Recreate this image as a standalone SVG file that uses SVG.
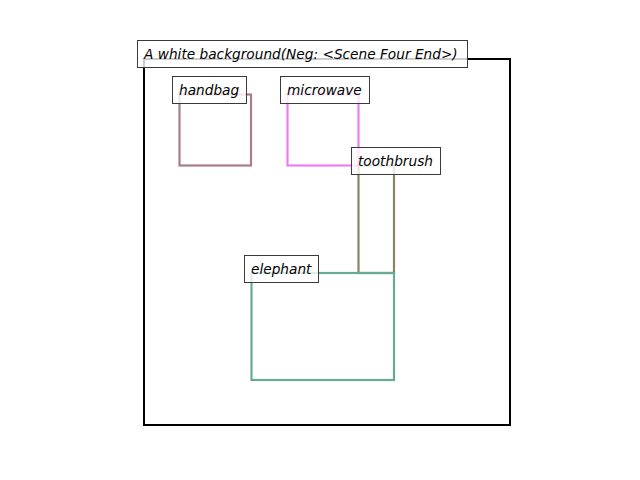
<svg xmlns="http://www.w3.org/2000/svg" width="640" height="480" viewBox="0 0 640 480">
<style>
.box{fill:none;stroke-width:2.2;}
.lbl rect{fill:#ffffff;fill-opacity:0.8;stroke:#3a3a3a;stroke-width:1;}
.lbl text{font-family:"DejaVu Sans",sans-serif;font-style:oblique;font-size:13.7px;fill:#000000;}
</style>
<rect width="640" height="480" fill="#ffffff"/>
<g id="frame"><rect x="144" y="59" width="366" height="366" fill="none" stroke="#000000" stroke-width="2"/></g>
<g id="handbag"><rect class="box" x="179.5" y="94.5" width="71.5" height="71" stroke="#a97c8e"/></g>
<g id="microwave"><rect class="box" x="287.5" y="94.5" width="71" height="71" stroke="#ee7df0"/></g>
<g id="toothbrush"><rect class="box" x="358.5" y="165.5" width="35.5" height="107.5" stroke="#8c8466"/></g>
<g id="elephant"><rect class="box" x="251.5" y="273" width="142.5" height="107" stroke="#66ab98"/></g>
<g id="title" class="lbl"><rect x="137.5" y="40.5" width="330" height="27"/><text x="144" y="59">A white background(Neg: &lt;Scene Four End&gt;)</text></g>
<g id="handbag-label" class="lbl"><rect x="172.5" y="76.5" width="74" height="27"/><text x="179" y="95">handbag</text></g>
<g id="microwave-label" class="lbl"><rect x="280.5" y="76.5" width="89" height="27"/><text x="287" y="95">microwave</text></g>
<g id="toothbrush-label" class="lbl"><rect x="351.5" y="147.5" width="89" height="27"/><text x="358" y="166">toothbrush</text></g>
<g id="elephant-label" class="lbl"><rect x="244.5" y="255.5" width="74" height="27"/><text x="251" y="274">elephant</text></g>
<g id="connectors"/>
</svg>
